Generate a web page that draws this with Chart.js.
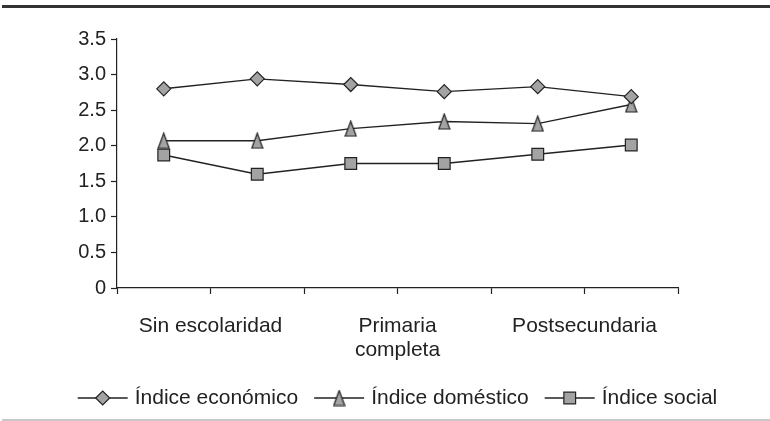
<!DOCTYPE html>
<html lang="es">
<head>
<meta charset="UTF-8" />
<title>Índices por escolaridad</title>
<script src="https://cdn.jsdelivr.net/npm/chart.js"></script>
<style>
  html, body { margin: 0; padding: 0; background: #fff; }
  #wrap { width: 770px; height: 421px; }
</style>
</head>
<body>
<div id="wrap"><canvas id="myChart" width="770" height="421"></canvas></div>
<script>
  // six education levels; only three of them carry a label, placed on the tick between pairs
  const levelCount = 6;
  const tickLabels = ["Sin escolaridad", ["Primaria", "completa"], "Postsecundaria"];
  const tickLabelAt = [1, 3, 5];

  const seriesNames = ["Índice económico", "Índice doméstico", "Índice social"];
  const economico = [2.80, 2.94, 2.86, 2.76, 2.83, 2.69];
  const domestico = [2.07, 2.07, 2.24, 2.34, 2.31, 2.58];
  const social = [1.87, 1.60, 1.75, 1.75, 1.88, 2.01];

  const yTicks = [0, 0.5, 1.0, 1.5, 2.0, 2.5, 3.0, 3.5];

  const INK = "#222";
  const FILL = "#a3a3a3";
  const FONT = "'Liberation Sans', Arial, sans-serif";

  // Excel-style narrow triangle marker
  const makeTriangle = () => {
    const c = document.createElement("canvas");
    c.width = 13; c.height = 17;
    const t = c.getContext("2d");
    t.beginPath();
    t.moveTo(6.5, 1);
    t.lineTo(12, 16);
    t.lineTo(1, 16);
    t.closePath();
    t.fillStyle = FILL;
    t.fill();
    t.lineWidth = 1.2;
    t.strokeStyle = INK;
    t.stroke();
    return c;
  };
  const triangle = makeTriangle();

  const toPoints = (vals) => vals.map((v, i) => ({ x: i + 0.5, y: v }));

  const series = [
    { label: seriesNames[0], data: toPoints(economico), pointStyle: "rectRot", pointRadius: 7 },
    { label: seriesNames[1], data: toPoints(domestico), pointStyle: triangle, pointRadius: 8 },
    { label: seriesNames[2], data: toPoints(social), pointStyle: "rect", pointRadius: 8.3 },
  ].map((d) => ({
    ...d,
    borderColor: INK,
    borderWidth: 1.4,
    pointBackgroundColor: FILL,
    pointBorderColor: INK,
    pointBorderWidth: 1.2,
    pointHoverRadius: d.pointRadius,
    tension: 0,
  }));

  // frame lines above and below the figure
  const framePlugin = {
    id: "frame",
    beforeDraw(chart) {
      const ctx = chart.ctx;
      ctx.save();
      ctx.fillStyle = "#fff";
      ctx.fillRect(0, 0, chart.width, chart.height);
      ctx.strokeStyle = "#333";
      ctx.lineWidth = 3;
      ctx.beginPath();
      ctx.moveTo(2, 6.5);
      ctx.lineTo(chart.width, 6.5);
      ctx.stroke();
      ctx.strokeStyle = "#c8c8c8";
      ctx.lineWidth = 2;
      ctx.beginPath();
      ctx.moveTo(2, 420);
      ctx.lineTo(chart.width, 420);
      ctx.stroke();
      ctx.restore();
    },
  };

  // legend with a line through each marker, Excel style
  const lineLegend = {
    id: "lineLegend",
    afterDraw(chart) {
      const ctx = chart.ctx;
      const area = chart.chartArea;
      const y = 398;
      const lineLen = 50;
      const textGap = 7;
      const itemGap = 16;
      ctx.save();
      ctx.font = "21px " + FONT;
      const widths = chart.data.datasets.map((d) => ctx.measureText(d.label).width);
      const total = widths.reduce((a, w) => a + w + lineLen + textGap, 0) + itemGap * (widths.length - 1);
      let x = (area.left + area.right) / 2 - total / 2;
      chart.data.datasets.forEach((d, i) => {
        ctx.strokeStyle = INK;
        ctx.lineWidth = 1.4;
        ctx.beginPath();
        ctx.moveTo(x, y);
        ctx.lineTo(x + lineLen, y);
        ctx.stroke();
        ctx.fillStyle = FILL;
        ctx.strokeStyle = INK;
        ctx.lineWidth = 1.2;
        Chart.helpers.drawPoint(ctx, {
          pointStyle: d.pointStyle,
          radius: d.pointRadius,
          rotation: 0,
          borderWidth: 1.2,
        }, x + lineLen / 2, y);
        ctx.fillStyle = INK;
        ctx.textBaseline = "middle";
        ctx.textAlign = "left";
        ctx.fillText(d.label, x + lineLen + textGap, y);
        x += lineLen + textGap + widths[i] + itemGap;
      });
      ctx.restore();
    },
  };

  const ctx = document.getElementById("myChart").getContext("2d");
  new Chart(ctx, {
    type: "line",
    data: { datasets: series },
    plugins: [framePlugin, lineLegend],
    options: {
      responsive: false,
      animation: false,
      devicePixelRatio: 1,
      layout: { padding: { top: 39, right: 92, left: 0, bottom: 0 } },
      plugins: {
        legend: { display: false },
        tooltip: { enabled: false },
      },
      scales: {
        x: {
          type: "linear",
          min: 0,
          max: levelCount,
          afterFit: (s) => { s.height = 133; },
          afterBuildTicks: (s) => {
            s.ticks = Array.from({ length: levelCount + 1 }, (_, i) => ({ value: i }));
          },
          border: { display: true, color: INK, width: 1.2 },
          grid: { display: true, drawOnChartArea: false, drawTicks: true, tickLength: 6, tickWidth: 1.2, tickColor: INK },
          ticks: {
            autoSkip: false,
            maxRotation: 0,
            padding: 20,
            color: INK,
            font: { size: 21, family: FONT, lineHeight: 1.15 },
            callback: (v) => {
              const k = tickLabelAt.indexOf(v);
              return k >= 0 ? tickLabels[k] : "";
            },
          },
        },
        y: {
          min: 0,
          max: 3.5,
          afterFit: (s) => { s.width = 117; },
          afterBuildTicks: (s) => { s.ticks = yTicks.map((v) => ({ value: v })); },
          border: { display: true, color: INK, width: 1.2 },
          grid: { display: true, drawOnChartArea: false, drawTicks: true, tickLength: 6, tickWidth: 1.2, tickColor: INK },
          ticks: {
            padding: 5,
            color: INK,
            font: { size: 20, family: FONT },
            callback: (v) => (v === 0 ? "0" : v.toFixed(1)),
          },
        },
      },
    },
  });
</script>
</body>
</html>
